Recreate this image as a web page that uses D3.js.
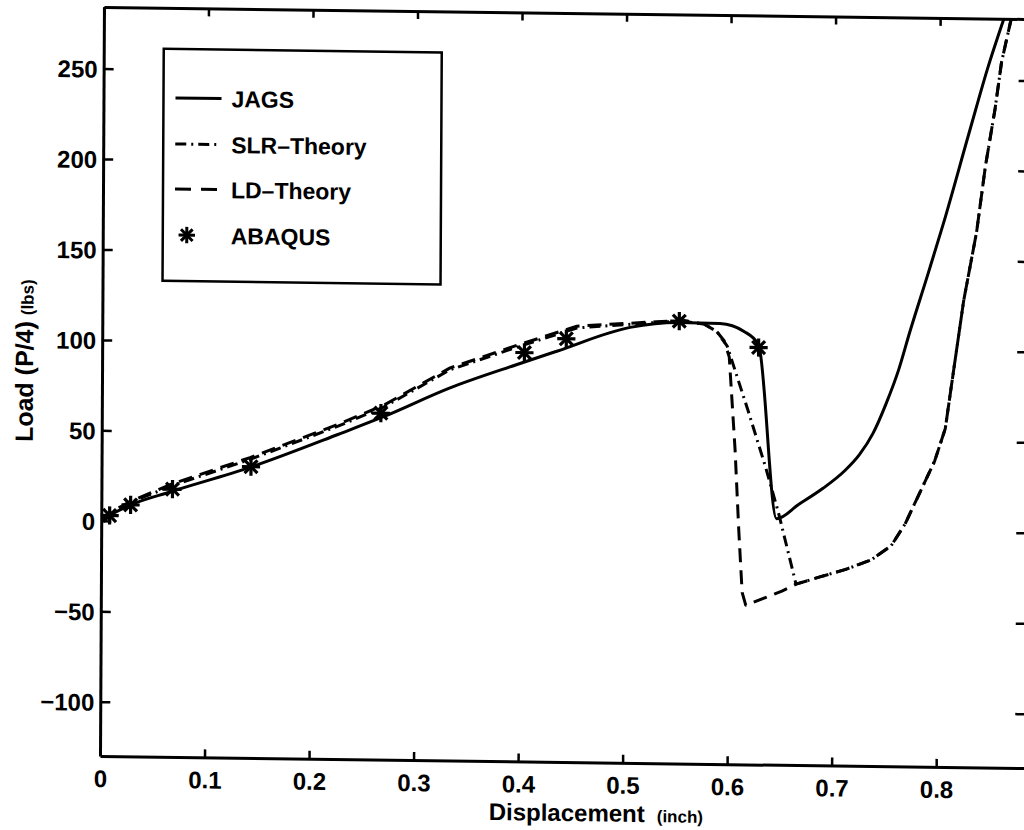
<!DOCTYPE html>
<html><head><meta charset="utf-8">
<script src="https://cdn.jsdelivr.net/npm/d3@7"></script>
<style>
body{margin:0;background:#fff;}
svg{display:block;}
text{font-family:"Liberation Sans",Arial,Helvetica,sans-serif;font-weight:bold;fill:#000;}
</style>
</head><body>
<svg id="chart" width="1024" height="830"></svg>
<script>
// ---- data ----
const xTickValues = [0, 0.1, 0.2, 0.3, 0.4, 0.5, 0.6, 0.7, 0.8];
const xTickLabels = ["0", "0.1", "0.2", "0.3", "0.4", "0.5", "0.6", "0.7", "0.8"];
const yTickValues = [-100, -50, 0, 50, 100, 150, 200, 250];
const yTickLabels = ["\u2212100", "\u221250", "0", "50", "100", "150", "200", "250"];

const jagsX = [0, 0.008, 0.028, 0.067, 0.142, 0.226, 0.27, 0.333, 0.397, 0.435, 0.505, 0.552, 0.591, 0.614, 0.628, 0.646, 0.667, 0.69, 0.711, 0.725, 0.738, 0.75, 0.762, 0.7725, 0.79, 0.804, 0.828, 0.846, 0.861];
const jagsY = [0, 3, 9, 16.7, 30.6, 49.4, 59.7, 76, 89.4, 97, 110.7, 113.8, 113.5, 109.3, 102, 6, 14, 23, 33, 42, 54, 70, 89, 110, 143, 170, 220, 257, 284];

const slrX = [0, 0.008, 0.028, 0.068, 0.142, 0.226, 0.27, 0.333, 0.397, 0.454, 0.53, 0.555, 0.576, 0.588, 0.598, 0.618, 0.635, 0.648, 0.665, 0.687, 0.7125, 0.737, 0.756, 0.769, 0.781, 0.797, 0.807, 0.812, 0.824, 0.836, 0.844, 0.853, 0.859, 0.868];
const slrY = [0, 4, 10.5, 20, 35, 54, 65, 86, 99, 110, 113.6, 114.5, 113, 109, 101, 66, 35, 9, -30, -26, -21.5, -16, -8, 4, 19, 39, 57, 78, 128, 166, 202, 234, 260, 284];

const ldX = [0, 0.008, 0.028, 0.068, 0.142, 0.226, 0.27, 0.333, 0.397, 0.454, 0.53, 0.555, 0.576, 0.588, 0.595, 0.6, 0.606, 0.61, 0.6135, 0.617, 0.6515, 0.665, 0.687, 0.7125, 0.737, 0.756, 0.769, 0.781, 0.797, 0.807, 0.812, 0.824, 0.836, 0.844, 0.853, 0.859, 0.868];
const ldY = [0, 4.5, 11, 21, 36, 55, 66, 87, 100, 111, 114, 115, 113, 109, 104, 95, 44, -1, -35, -42, -34, -30, -26, -21.5, -16, -8, 4, 19, 39, 57, 78, 128, 166, 202, 234, 260, 284];

const abaqusX = [0.008, 0.028, 0.068, 0.143, 0.267, 0.404, 0.444, 0.552, 0.628];
const abaqusY = [3, 9, 18, 31, 61.5, 96, 104, 114.5, 100.5];

const legendLabels = ["JAGS", "SLR\u2013Theory", "LD\u2013Theory", "ABAQUS"];

// ---- chart ----
const svg = d3.select("#chart");
// the scanned original is slightly skewed; mimic with a small affine transform
const g = svg.append("g")
  .attr("transform", "translate(100,756) matrix(1,0.013,-0.0053,1,0,0) translate(-100,-756)");

const x = d3.scaleLinear().domain([0, 0.885]).range([100, 1025]);
const y = d3.scaleLinear().domain([-130, 284]).range([756, 7]);

const clipId = "plotclip";
g.append("clipPath").attr("id", clipId).append("rect")
  .attr("x", 100).attr("y", 7).attr("width", 925).attr("height", 749);

// axes
const axW = 3;
const axBottom = g.append("g").attr("transform", `translate(0,${y.range()[0]})`)
  .call(d3.axisBottom(x).tickValues(xTickValues).tickFormat((d, i) => xTickLabels[i])
    .tickSizeInner(-8).tickSizeOuter(0).tickPadding(14));
const axLeft = g.append("g").attr("transform", `translate(${x.range()[0]},0)`)
  .call(d3.axisLeft(y).tickValues(yTickValues).tickFormat((d, i) => yTickLabels[i])
    .tickSizeInner(-10).tickSizeOuter(0).tickPadding(6));
const axTop = g.append("g").attr("transform", `translate(0,${y.range()[1]})`)
  .call(d3.axisTop(x).tickValues(xTickValues).tickFormat("").tickSizeInner(-8).tickSizeOuter(0));
const axRight = g.append("g").attr("transform", `translate(${x.range()[1]},0)`)
  .call(d3.axisRight(y).tickValues(yTickValues).tickFormat("").tickSizeInner(-10).tickSizeOuter(0));

[axBottom, axLeft, axTop, axRight].forEach(a => {
  a.select(".domain").attr("stroke", "#000").attr("stroke-width", axW);
  a.selectAll(".tick line").attr("stroke", "#000").attr("stroke-width", 2.5);
  a.selectAll("text").style("font-size", "24px").attr("fill", "#000");
});
axLeft.selectAll("text").attr("dy", "0.36em");

// axis titles
const xl = g.append("text").attr("x", 489).attr("y", 815).style("font-size", "24px");
xl.append("tspan").text("Displacement");
xl.append("tspan").attr("dx", 12).style("font-size", "17px").text("(inch)");

const yl = g.append("text").attr("transform", "translate(31,443) rotate(-90)").style("font-size", "25px");
yl.append("tspan").text("Load (P/4)");
yl.append("tspan").attr("dx", 6).style("font-size", "17px").text("(lbs)");

// series
const plot = g.append("g").attr("clip-path", `url(#${clipId})`);
const smooth = d3.line().x(d => x(d[0])).y(d => y(d[1])).curve(d3.curveMonotoneX);
const straight = d3.line().x(d => x(d[0])).y(d => y(d[1]));
const series = [
  {xs: jagsX, ys: jagsY, dash: null, gen: smooth},
  {xs: slrX, ys: slrY, dash: "11,5,2,5", gen: straight},
  {xs: ldX, ys: ldY, dash: "14,8", gen: straight}
];
series.forEach(s => {
  const pts = s.xs.map((v, i) => [v, s.ys[i]]);
  plot.append("path").datum(pts).attr("d", s.gen)
    .attr("fill", "none").attr("stroke", "#000").attr("stroke-width", 3)
    .attr("stroke-linejoin", "round")
    .attr("stroke-dasharray", s.dash);
});

// ABAQUS asterisk markers (plus + times)
const plusSym = d3.symbol(d3.symbolPlus, 110);
const timesSym = d3.symbol(d3.symbolTimes, 110);
const abaqus = abaqusX.map((v, i) => [v, abaqusY[i]]);
const mk = plot.selectAll("g.mk").data(abaqus).join("g").attr("class", "mk")
  .attr("transform", d => `translate(${x(d[0])},${y(d[1])})`);
mk.append("path").attr("d", plusSym).attr("fill", "none").attr("stroke", "#000").attr("stroke-width", 3.2);
mk.append("path").attr("d", timesSym).attr("fill", "none").attr("stroke", "#000").attr("stroke-width", 3.2);

// legend
const lg = g.append("g");
lg.append("rect").attr("x", 160).attr("y", 48).attr("width", 278).attr("height", 232)
  .attr("fill", "#fff").attr("stroke", "#000").attr("stroke-width", 2.5);
const rowY = [97, 143, 188, 234];
const dashes = [null, "11,5,2,5", "16,10"];
legendLabels.forEach((lab, i) => {
  if (i < 3) {
    lg.append("line").attr("x1", 172).attr("x2", 218).attr("y1", rowY[i]).attr("y2", rowY[i])
      .attr("stroke", "#000").attr("stroke-width", 3).attr("stroke-dasharray", dashes[i]);
  } else {
    const m = lg.append("g").attr("transform", `translate(184,${rowY[i]})`);
    m.append("path").attr("d", d3.symbol(d3.symbolPlus, 90)).attr("fill", "none").attr("stroke", "#000").attr("stroke-width", 3);
    m.append("path").attr("d", d3.symbol(d3.symbolTimes, 90)).attr("fill", "none").attr("stroke", "#000").attr("stroke-width", 3);
  }
  lg.append("text").attr("x", 228).attr("y", rowY[i] + 8.5).style("font-size", "23px").text(lab);
});
</script>
</body></html>
